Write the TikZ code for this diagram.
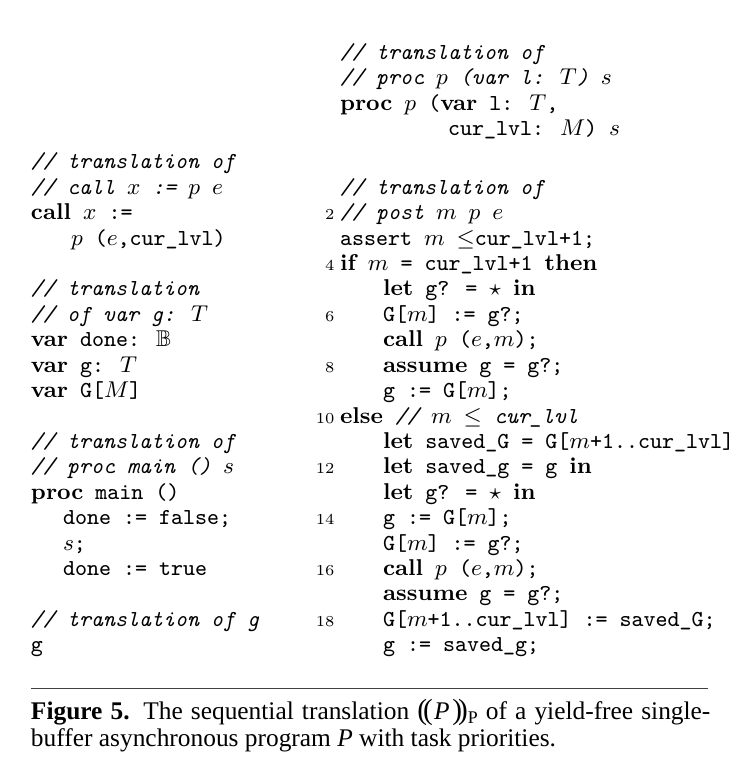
\documentclass[tikz,border=0pt]{standalone}
\usepackage{amssymb}
\usepackage{fontspec}
\newfontfamily\capfont{Liberation Serif}
\newcommand\kw[1]{{\rmfamily\bfseries #1}}
\newcommand\cmt[1]{{\ttfamily\itshape #1}}
\newcommand\dlp{{\fontsize{11.5}{11.5}\selectfont(\kern-0.13em(}}
\newcommand\drp{{\fontsize{11.5}{11.5}\selectfont)\kern-0.13em)}}
\tikzset{
  code/.style={anchor=base west, inner sep=0pt, outer sep=0pt, font=\ttfamily\fontsize{9}{10}\selectfont},
  lnum/.style={anchor=base east, inner sep=0pt, outer sep=0pt, font=\rmfamily\fontsize{6}{7}\selectfont},
  captext/.style={anchor=base west, inner sep=0pt, outer sep=0pt, font=\capfont\fontsize{10}{11}\selectfont},
  rulestyle/.style={draw=black!75, line width=0.45pt}
}
\begin{document}
\begin{tikzpicture}[x=0.3937pt, y=-0.3937pt]
\useasboundingbox (0,0) rectangle (749,784);
% left column
\node[code] (la) at (31,168.9) {\cmt{// translation of}};
\node[code] (lb) at (31,194.3) {\cmt{// call $x$ := $p$ $e$}};
\node[code] (lc) at (31,219.7) {\kw{call} $x$ :=};
\node[code] (ld) at (71,245.1) {$p$ ($e$,cur\_lvl)};
\node[code] (le) at (31,295.9) {\cmt{// translation}};
\node[code] (lf) at (31,321.4) {\cmt{// of var g: $T$}};
\node[code] (lg) at (31,346.8) {\kw{var} done: $\mathbb{B}$};
\node[code] (lh) at (31,372.2) {\kw{var} g: $T$};
\node[code] (li) at (31,397.6) {\kw{var} G[$M$]};
\node[code] (lj) at (31,448.4) {\cmt{// translation of}};
\node[code] (lk) at (31,473.8) {\cmt{// proc main () $s$}};
\node[code] (ll) at (31,499.2) {\kw{proc} main ()};
\node[code] (lm) at (63,524.6) {done := false;};
\node[code] (ln) at (63,550.0) {$s$;};
\node[code] (lo) at (63,575.5) {done := true};
\node[code] (lp) at (31,626.3) {\cmt{// translation of g}};
\node[code] (lq) at (31,651.7) {g};
% right column, top block
\node[code] (ra) at (340,59.3) {\cmt{// translation of}};
\node[code] (rb) at (340,84.7) {\cmt{// proc $p$ (var l: $T$) $s$}};
\node[code] (rc) at (340,110.1) {\kw{proc} $p$ (\kw{var} l: $T$,};
\node[code] (rd) at (448,135.5) {cur\_lvl: $M$) $s$};
% right column, post translation
\node[code] (r0) at (340,194.3) {\cmt{// translation of}};
\node[code] (r1) at (340,219.7) {\cmt{// post $m$ $p$ $e$}};
\node[code] (r2) at (340,245.1) {assert $m$ $\leq$cur\_lvl+1;};
\node[code] (r3) at (340,270.5) {\kw{if} $m$ = cur\_lvl+1 \kw{then}};
\node[code] (r4) at (383,295.9) {\kw{let} g? = $\star$ \kw{in}};
\node[code] (r5) at (383,321.4) {G[$m$] := g?;};
\node[code] (r6) at (383,346.8) {\kw{call} $p$ ($e$,$m$);};
\node[code] (r7) at (383,372.2) {\kw{assume} g = g?;};
\node[code] (r8) at (383,397.6) {g := G[$m$];};
\node[code] (r9) at (340,423.0) {\kw{else} \cmt{// $m$ $\leq$ cur\_lvl}};
\node[code] (r10) at (383,448.4) {\kw{let} saved\_G = G[$m$+1..cur\_lvl]};
\node[code] (r11) at (383,473.8) {\kw{let} saved\_g = g \kw{in}};
\node[code] (r12) at (383,499.2) {\kw{let} g? = $\star$ \kw{in}};
\node[code] (r13) at (383,524.6) {g := G[$m$];};
\node[code] (r14) at (383,550.0) {G[$m$] := g?;};
\node[code] (r15) at (383,575.5) {\kw{call} $p$ ($e$,$m$);};
\node[code] (r16) at (383,600.9) {\kw{assume} g = g?;};
\node[code] (r17) at (383,626.3) {G[$m$+1..cur\_lvl] := saved\_G;};
\node[code] (r18) at (383,651.7) {g := saved\_g;};
% line numbers
\node[lnum] (n2) at (334.5,219.7) {2};
\node[lnum] (n4) at (334.5,270.5) {4};
\node[lnum] (n6) at (334.5,321.4) {6};
\node[lnum] (n8) at (334.5,372.2) {8};
\node[lnum] (n10) at (334.5,423.0) {10};
\node[lnum] (n12) at (334.5,473.8) {12};
\node[lnum] (n14) at (334.5,524.6) {14};
\node[lnum] (n16) at (334.5,575.5) {16};
\node[lnum] (n18) at (334.5,626.3) {18};
% rule and caption
\coordinate (rl) at (31,688.3);
\coordinate (rr) at (708.3,688.3);
\draw[rulestyle] (rl) -- (rr);
\node[captext] (c1) at (31,719) {\makebox[267.5pt][s]{\textbf{Figure 5.} The sequential translation \dlp\kern0.05em\textit{P}\kern0.1em\drp\raisebox{-0.4ex}{\fontsize{7}{8}\selectfont P} of a yield-free single-}};
\node[captext] (c2) at (31,746) {buffer asynchronous program \textit{P} with task priorities.};
\end{tikzpicture}
\end{document}
